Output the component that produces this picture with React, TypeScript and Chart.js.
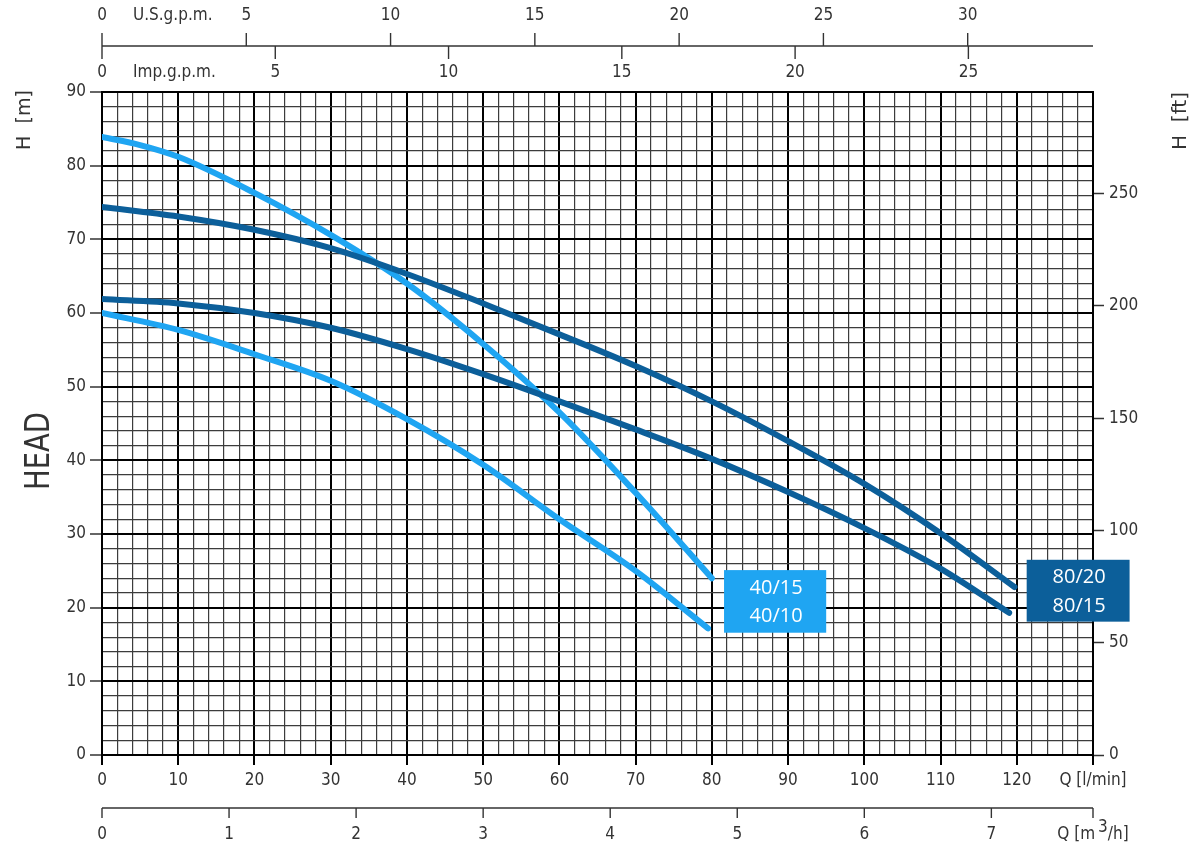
import React, { useEffect, useRef } from "react";
import { Chart, registerables } from "chart.js";

Chart.register(...registerables);

// ---- data ----
const flow4015 = [0, 5, 10, 20, 30, 40, 50, 60, 70, 80];
const head4015 = [83.9, 82.8, 81.2, 76.3, 70.6, 64.0, 55.8, 46.5, 35.6, 24.0];
const flow4010 = [0, 10, 20, 30, 40, 50, 60, 70, 79.5];
const head4010 = [60.0, 57.7, 54.4, 50.8, 45.6, 39.4, 32.0, 25.0, 17.2];
const flow8020 = [0, 10, 20, 30, 40, 50, 60, 70, 80, 90, 100, 110, 119.7];
const head8020 = [74.4, 73.1, 71.3, 68.8, 65.3, 61.3, 57.1, 52.8, 48.0, 42.6, 36.8, 30.1, 22.8];
const flow8015 = [0, 10, 20, 30, 40, 50, 60, 70, 80, 90, 100, 110, 119];
const head8015 = [61.9, 61.3, 60.0, 58.0, 55.1, 51.7, 48.0, 44.2, 40.2, 35.7, 30.8, 25.3, 19.3];

const usGpmTicks = [0, 5, 10, 15, 20, 25, 30];
const impGpmTicks = [0, 5, 10, 15, 20, 25];
const m3hTicks = [0, 1, 2, 3, 4, 5, 6, 7];
const labels40 = ["40/15", "40/10"];
const labels80 = ["80/20", "80/15"];

const LIGHT = "#1fa5f2";
const DARK = "#0c5f9a";
const TXT = "#333";
const FONT = "'DejaVu Sans Condensed', 'Liberation Sans Narrow', sans-serif";

const L_PER_USGAL = 3.78541;
const L_PER_IMPGAL = 4.54609;
const LMIN_PER_M3H = 1000 / 60;
const FT_PER_M = 3.28084;
const Q_MAX = 130;
const H_MAX = 90;

const toPts = (xs: number[], ys: number[]) => xs.map((x, i) => ({ x, y: ys[i] }));

const extras = {
  id: "extras",
  afterDraw(chart: any) {
    const ctx = chart.ctx as CanvasRenderingContext2D;
    const xs = chart.scales.x;
    const ys = chart.scales.y;
    const px = (q: number) => xs.getPixelForValue(q);
    const py = (h: number) => ys.getPixelForValue(h);
    ctx.save();
    ctx.strokeStyle = TXT;
    ctx.fillStyle = TXT;
    ctx.lineWidth = 1.4;
    ctx.font = `17px ${FONT}`;
    ctx.textAlign = "center";
    ctx.textBaseline = "middle";

    // top combined gpm axis
    const yTop = 46;
    ctx.beginPath();
    ctx.moveTo(px(0), yTop);
    ctx.lineTo(px(Q_MAX), yTop);
    ctx.stroke();
    usGpmTicks.forEach((v) => {
      const x = px(v * L_PER_USGAL);
      ctx.beginPath();
      ctx.moveTo(x, yTop - 13);
      ctx.lineTo(x, yTop);
      ctx.stroke();
      ctx.fillText(String(v), x, 16);
    });
    impGpmTicks.forEach((v) => {
      const x = px(v * L_PER_IMPGAL);
      ctx.beginPath();
      ctx.moveTo(x, yTop);
      ctx.lineTo(x, yTop + 13);
      ctx.stroke();
      ctx.fillText(String(v), x, 73);
    });
    ctx.textAlign = "left";
    ctx.fillText("U.S.g.p.m.", 133, 16);
    ctx.fillText("Imp.g.p.m.", 133, 73);

    // bottom m3/h axis
    const yBot = 808;
    ctx.beginPath();
    ctx.moveTo(px(0), yBot);
    ctx.lineTo(px(Q_MAX), yBot);
    ctx.stroke();
    ctx.textAlign = "center";
    m3hTicks.forEach((v) => {
      const x = px(v * LMIN_PER_M3H);
      ctx.beginPath();
      ctx.moveTo(x, yBot);
      ctx.lineTo(x, yBot + 10);
      ctx.stroke();
      ctx.fillText(String(v), x, 835);
    });
    {
      const x = px(Q_MAX);
      ctx.beginPath();
      ctx.moveTo(x, yBot);
      ctx.lineTo(x, yBot + 10);
      ctx.stroke();
      const a = "Q [m";
      const b = "3";
      const c = "/h]";
      const wa = ctx.measureText(a).width;
      const wb = ctx.measureText(b).width;
      const wc = ctx.measureText(c).width;
      const total = wa + 3 + wb + wc;
      let sx = x - total / 2;
      ctx.textAlign = "left";
      ctx.fillText(a, sx, 835);
      sx += wa + 3;
      ctx.fillText(b, sx, 828);
      sx += wb;
      ctx.fillText(c, sx, 835);
    }

    // vertical titles
    const vText = (t: string, x: number, y: number, size: number, fit?: number) => {
      ctx.save();
      ctx.translate(x, y);
      ctx.rotate(-Math.PI / 2);
      ctx.font = `${size}px ${FONT}`;
      ctx.textAlign = "center";
      ctx.textBaseline = "middle";
      if (fit) {
        const w = ctx.measureText(t).width;
        ctx.scale(fit / w, 1);
      }
      ctx.fillText(t, 0, 0);
      ctx.restore();
    };
    vText("H  [m]", 25, 120, 20, 60);
    vText("H  [ft]", 1181, 121, 20, 58);
    vText("HEAD", 40, 451, 33, 78);

    // curve labels
    const box = (q0: number, q1: number, h0: number, h1: number, color: string, texts: string[], yOffs: number[]) => {
      const x0 = px(q0), x1 = px(q1), y0 = py(h0), y1 = py(h1);
      ctx.fillStyle = color;
      ctx.fillRect(x0, y0, x1 - x0, y1 - y0);
      ctx.fillStyle = "#fff";
      ctx.font = `20px 'Open Sans', 'Noto Sans', sans-serif`;
      ctx.textAlign = "center";
      ctx.textBaseline = "middle";
      texts.forEach((t, i) => ctx.fillText(t, (x0 + x1) / 2 + 1, y0 + yOffs[i]));
    };
    box(81.6, 95.0, 25.1, 16.6, LIGHT, labels40, [18, 46]);
    box(121.3, 134.8, 26.5, 18.1, DARK, labels80, [18, 47]);
    ctx.restore();
  },
};

export default function App() {
  const ref = useRef<HTMLCanvasElement | null>(null);
  useEffect(() => {
    if (!ref.current) return;
    const major = (v: number) => Math.abs(v % 10) < 1e-6;
    const lineDs = (label: string, xs: number[], ys: number[], color: string) => ({
      label,
      data: toPts(xs, ys),
      borderColor: color,
      backgroundColor: color,
      borderWidth: 6,
      borderCapStyle: "round" as const,
      pointRadius: 0,
      cubicInterpolationMode: "monotone" as const,
      fill: false,
    });
    const chart = new Chart(ref.current, {
      type: "line",
      data: {
        datasets: [
          lineDs("80/20", flow8020, head8020, DARK),
          lineDs("80/15", flow8015, head8015, DARK),
          lineDs("40/15", flow4015, head4015, LIGHT),
          lineDs("40/10", flow4010, head4010, LIGHT),
        ],
      },
      options: {
        responsive: false,
        animation: false,
        events: [],
        layout: { padding: { left: 0, right: 0, top: 92, bottom: 0 } },
        plugins: { legend: { display: false }, tooltip: { enabled: false } },
        scales: {
          x: {
            type: "linear",
            position: "bottom",
            min: 0,
            max: Q_MAX,
            afterFit: (s: any) => { s.height = 94; },
            afterBuildTicks: (s: any) => {
              const t = [];
              for (let v = 0; v <= Q_MAX; v += 2) t.push({ value: v });
              s.ticks = t;
            },
            ticks: {
              autoSkip: false,
              maxRotation: 0,
              padding: 5,
              color: TXT,
              font: { family: FONT, size: 17 },
              callback: (v: any) => {
                const n = Number(v);
                if (!major(n)) return "";
                return n === Q_MAX ? "Q [l/min]" : String(n);
              },
            },
            grid: {
              color: (c: any) => (major(c.tick.value) ? "#000" : "#3c3c3c"),
              lineWidth: (c: any) => (major(c.tick.value) ? 2 : 1.2),
              tickColor: (c: any) => (major(c.tick.value) ? "#000" : "rgba(0,0,0,0)"),
              tickLength: 10,
              tickWidth: 2,
            },
            border: { display: true, color: "#000", width: 2 },
          },
          y: {
            type: "linear",
            position: "left",
            min: 0,
            max: H_MAX,
            afterFit: (s: any) => { s.width = 102; },
            afterBuildTicks: (s: any) => {
              const t = [];
              for (let v = 0; v <= H_MAX; v += 2) t.push({ value: v });
              s.ticks = t;
            },
            ticks: {
              autoSkip: false,
              padding: 4,
              color: TXT,
              font: { family: FONT, size: 17 },
              callback: (v: any) => (major(Number(v)) ? String(v) : ""),
            },
            grid: {
              color: (c: any) => (major(c.tick.value) ? "#000" : "#3c3c3c"),
              lineWidth: (c: any) => (major(c.tick.value) ? 2 : 1.2),
              tickColor: (c: any) => (major(c.tick.value) ? "#333" : "rgba(0,0,0,0)"),
              tickLength: 12,
              tickWidth: 1.5,
            },
            border: { display: true, color: "#000", width: 2 },
          },
          yft: {
            type: "linear",
            position: "right",
            min: 0,
            max: H_MAX * FT_PER_M,
            afterFit: (s: any) => { s.width = 109; },
            ticks: {
              stepSize: 50,
              includeBounds: false,
              padding: 5,
              color: TXT,
              font: { family: FONT, size: 17 },
            },
            grid: {
              drawOnChartArea: false,
              tickColor: "#333",
              tickLength: 11,
              tickWidth: 1.5,
            },
            border: { display: true, color: "#000", width: 2 },
          },
        },
      },
      plugins: [extras],
    } as any);
    return () => chart.destroy();
  }, []);
  return (
    <div style={{ position: "absolute", left: 0, top: 0, width: 1202, height: 849, background: "#fff" }}>
      <canvas ref={ref} width={1202} height={849} style={{ width: 1202, height: 849 }} />
    </div>
  );
}
